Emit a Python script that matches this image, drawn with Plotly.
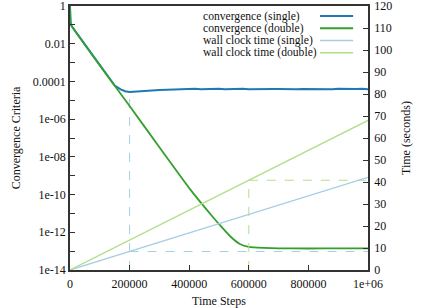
import plotly.graph_objects as go

# ---------------- data ----------------
steps_double = [0, 2000, 5000, 100000, 200000, 300000, 400000, 480000, 510000,
                540000, 570000, 600000, 650000, 700000, 800000, 900000, 1000000]
conv_double = [1.0, 0.126, 0.089, 7.1e-4, 5.0e-6, 3.2e-8, 2.2e-10, 6.3e-12, 1.8e-12,
               5.6e-13, 2.4e-13, 1.66e-13, 1.48e-13, 1.41e-13, 1.38e-13, 1.41e-13, 1.41e-13]

steps_single = [0, 2000, 5000, 100000, 150000, 170000, 185000, 200000, 220000, 250000,
                300000, 350000, 380000, 400000, 420000, 440000, 460000, 480000, 500000,
                520000, 540000, 560000, 580000, 600000, 620000, 640000, 660000, 680000,
                700000, 720000, 740000, 760000, 780000, 800000, 820000, 840000, 860000,
                880000, 900000, 920000, 940000, 960000, 980000, 1000000]
conv_single = [1.0, 0.126, 0.089, 7.1e-4, 6.0e-5, 3.8e-5, 3.0e-5, 2.75e-5, 2.9e-5, 3.2e-5,
               3.5e-5, 3.7e-5, 3.9e-5, 3.8e-5, 4.05e-5, 3.85e-5, 4.0e-5, 3.9e-5, 4.1e-5,
               3.85e-5, 4.0e-5, 3.9e-5, 4.05e-5, 3.9e-5, 4.0e-5, 3.85e-5, 4.05e-5, 3.95e-5,
               4.0e-5, 3.85e-5, 4.05e-5, 3.9e-5, 4.0e-5, 3.95e-5, 4.05e-5, 3.85e-5, 4.0e-5,
               3.9e-5, 4.05e-5, 3.9e-5, 4.0e-5, 3.95e-5, 4.05e-5, 3.9e-5]

time_steps = [0, 200000, 600000, 1000000]
wall_single = [0, 8.4, 25.3, 42.1]
wall_double = [0, 13.6, 40.8, 68.0]

# reference markers (dashed guide lines)
guide_single_step = 200000
guide_single_conv = 2.75e-5
guide_single_time = 8.4
guide_double_step = 600000
guide_double_time = 40.8
x_end = 1000000
conv_floor = 1e-14

x_tickvals = [0, 200000, 400000, 600000, 800000, 1000000]
x_ticktext = ["0", "200000", "400000", "600000", "800000", "1e+06"]
y_exps = list(range(-14, 1))
y_tickvals = [10.0 ** e for e in y_exps]
y_labels = {0: "1", -2: "0.01", -4: "0.0001", -6: "1e-06", -8: "1e-08",
            -10: "1e-10", -12: "1e-12", -14: "1e-14"}
y_ticktext = [y_labels.get(e, "") for e in y_exps]

legend_names = ["convergence (single)", "convergence (double)",
                "wall clock time (single)", "wall clock time (double)"]

# ---------------- style ----------------
C_BLUE = "#1f78b4"
C_GREEN = "#33a02c"
C_LBLUE = "#a6cee3"
C_LGREEN = "#b2df8a"
FONT = "Liberation Serif, Times New Roman, serif"
AXC = "#333333"

fig = go.Figure()

# dashed guides
fig.add_trace(go.Scatter(x=[guide_single_step, guide_single_step], y=[conv_floor, guide_single_conv],
                         mode="lines", line=dict(color=C_LBLUE, width=1, dash="dash"),
                         yaxis="y", showlegend=False, hoverinfo="skip"))
fig.add_trace(go.Scatter(x=[guide_single_step, x_end], y=[guide_single_time, guide_single_time],
                         mode="lines", line=dict(color=C_LBLUE, width=1, dash="dash"),
                         yaxis="y2", showlegend=False, hoverinfo="skip"))
fig.add_trace(go.Scatter(x=[guide_double_step, guide_double_step], y=[0, guide_double_time],
                         mode="lines", line=dict(color=C_LGREEN, width=1, dash="dash"),
                         yaxis="y2", showlegend=False, hoverinfo="skip"))
fig.add_trace(go.Scatter(x=[guide_double_step, x_end], y=[guide_double_time, guide_double_time],
                         mode="lines", line=dict(color=C_LGREEN, width=1, dash="dash"),
                         yaxis="y2", showlegend=False, hoverinfo="skip"))

# wall clock
fig.add_trace(go.Scatter(x=time_steps, y=wall_single, mode="lines", name=legend_names[2],
                         line=dict(color=C_LBLUE, width=1.3), yaxis="y2", showlegend=False))
fig.add_trace(go.Scatter(x=time_steps, y=wall_double, mode="lines", name=legend_names[3],
                         line=dict(color=C_LGREEN, width=1.3), yaxis="y2", showlegend=False))
# convergence
fig.add_trace(go.Scatter(x=steps_single, y=conv_single, mode="lines", name=legend_names[0],
                         line=dict(color=C_BLUE, width=2), yaxis="y", showlegend=False))
fig.add_trace(go.Scatter(x=steps_double, y=conv_double, mode="lines", name=legend_names[1],
                         line=dict(color=C_GREEN, width=1.8, shape="spline", smoothing=0.4),
                         yaxis="y", showlegend=False))

# custom gnuplot-style legend (sample line to the right of the text)
leg_colors = [C_BLUE, C_GREEN, C_LBLUE, C_LGREEN]
leg_widths = [2, 2, 1.5, 1.5]
leg_y = [0.962, 0.916, 0.869, 0.823]
for name, col, w, yy in zip(legend_names, leg_colors, leg_widths, leg_y):
    fig.add_annotation(x=0.443, y=yy, xref="paper", yref="paper", text=name,
                       showarrow=False, xanchor="left", yanchor="middle", borderpad=0,
                       font=dict(family=FONT, size=11.6, color="#111"))
    fig.add_shape(type="line", xref="paper", yref="paper", x0=0.839, x1=0.95, y0=yy, y1=yy,
                  line=dict(color=col, width=w))

fig.update_layout(
    width=426, height=308,
    margin=dict(l=70, r=58, t=6, b=38),
    paper_bgcolor="white", plot_bgcolor="white",
    font=dict(family=FONT, size=12, color="#111"),
    xaxis=dict(range=[0, 1000000], tickmode="array", tickvals=x_tickvals, ticktext=x_ticktext,
               ticks="inside", ticklen=5, tickcolor=AXC, showline=True, linecolor=AXC,
               linewidth=1.5, mirror=True, showgrid=False, zeroline=False, automargin=False,
               ticklabelstandoff=2, ticklabeloverflow="allow",
               title=dict(text="Time Steps", standoff=6, font=dict(size=12))),
    yaxis=dict(type="log", range=[-14, 0], tickmode="array", tickvals=y_tickvals,
               ticktext=y_ticktext, ticks="inside", ticklen=5, tickcolor=AXC, automargin=False,
               showline=True, linecolor=AXC, linewidth=1.5, showgrid=False, zeroline=False,
               ticklabeloverflow="allow",
               title=dict(text="Convergence Criteria", standoff=10, font=dict(size=12))),
    yaxis2=dict(range=[0, 120], dtick=10, overlaying="y", side="right", automargin=False,
                ticks="inside", ticklen=5, tickcolor=AXC, showline=True, linecolor=AXC,
                linewidth=1.5, showgrid=False, zeroline=False, ticklabelstandoff=2,
                ticklabeloverflow="allow",
                title=dict(text="Time (seconds)", standoff=10, font=dict(size=12))),
    showlegend=False,
)

fig.write_html("out.html")
